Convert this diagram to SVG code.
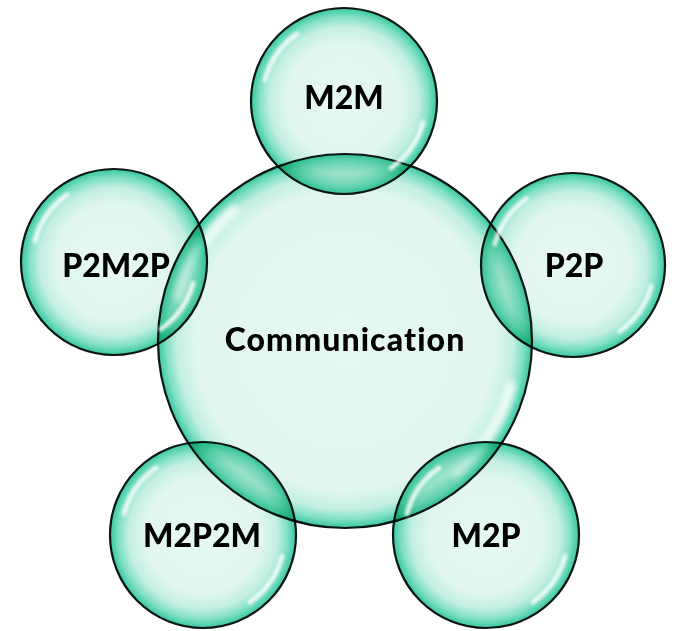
<svg xmlns="http://www.w3.org/2000/svg" xmlns:xlink="http://www.w3.org/1999/xlink" width="677" height="631" viewBox="0 0 677 631">
<style>
.bub{fill:url(#gBub);stroke:#0b1512;stroke-width:2.2;mix-blend-mode:multiply}
.big{fill:url(#gBig)}
.lbl{font-family:Lato,"Open Sans","DejaVu Sans",sans-serif;font-weight:900;fill:#000;text-anchor:middle;font-variant-ligatures:none}
.hl{fill:none;stroke:#ffffff;stroke-linecap:round;stroke-width:5;opacity:0.85;filter:url(#blur)}
</style>
<defs>
<radialGradient id="gBub" cx="0.5" cy="0.5" r="0.5">
<stop offset="0" stop-color="#e6f8f3"/>
<stop offset="0.62" stop-color="#e1f6ef"/>
<stop offset="0.8" stop-color="#c3efe2"/>
<stop offset="0.91" stop-color="#7fdfc4"/>
<stop offset="1" stop-color="#36c8a0"/>
</radialGradient>
<radialGradient id="gBig" cx="0.5" cy="0.5" r="0.5">
<stop offset="0" stop-color="#e6f8f3"/>
<stop offset="0.8" stop-color="#e1f6ef"/>
<stop offset="0.9" stop-color="#c3efe2"/>
<stop offset="0.955" stop-color="#7fdfc4"/>
<stop offset="1" stop-color="#36c8a0"/>
</radialGradient>
<filter id="blur" x="-0.5" y="-0.5" width="2" height="2">
<feGaussianBlur stdDeviation="1.6"/>
</filter>
<g id="hl">
<path class="hl" d="M -85,-22.8 A 88 88 0 0 1 -50.5,-72.1"/>
<path class="hl" d="M 85,22.8 A 88 88 0 0 1 50.5,72.1"/>
</g>
<g id="hlBig">
<path class="hl" d="M -88.9,-23.8 A 92 92 0 0 1 -59.1,-70.5"/>
<path class="hl" d="M 88.9,23.8 A 92 92 0 0 1 59.1,70.5"/>
</g>
</defs>
<rect width="677" height="631" fill="#ffffff"/>
<g id="communication">
<circle class="bub big" cx="345" cy="341" r="187"/>
<use xlink:href="#hlBig" transform="translate(345,341) scale(1.87)"/>
<text class="lbl" x="345" y="351" font-size="32" letter-spacing="1.1">Communication</text>
</g>
<g id="m2m">
<circle class="bub" cx="344" cy="101" r="93"/>
<use xlink:href="#hl" transform="translate(344,101) scale(0.93)"/>
<text class="lbl" x="344" y="109" font-size="32">M2M</text>
</g>
<g id="p2p">
<circle class="bub" cx="573" cy="265" r="92"/>
<use xlink:href="#hl" transform="translate(573,265) scale(0.92)"/>
<text class="lbl" x="574" y="277" font-size="32">P2P</text>
</g>
<g id="p2m2p">
<circle class="bub" cx="114" cy="262" r="93"/>
<use xlink:href="#hl" transform="translate(114,262) scale(0.93)"/>
<text class="lbl" x="116" y="277" font-size="32">P2M2P</text>
</g>
<g id="m2p2m">
<circle class="bub" cx="203" cy="535" r="93"/>
<use xlink:href="#hl" transform="translate(203,535) scale(0.93)"/>
<text class="lbl" x="202" y="547" font-size="32">M2P2M</text>
</g>
<g id="m2p">
<circle class="bub" cx="486" cy="535" r="93"/>
<use xlink:href="#hl" transform="translate(486,535) scale(0.93)"/>
<text class="lbl" x="486" y="547" font-size="32">M2P</text>
</g>
</svg>
